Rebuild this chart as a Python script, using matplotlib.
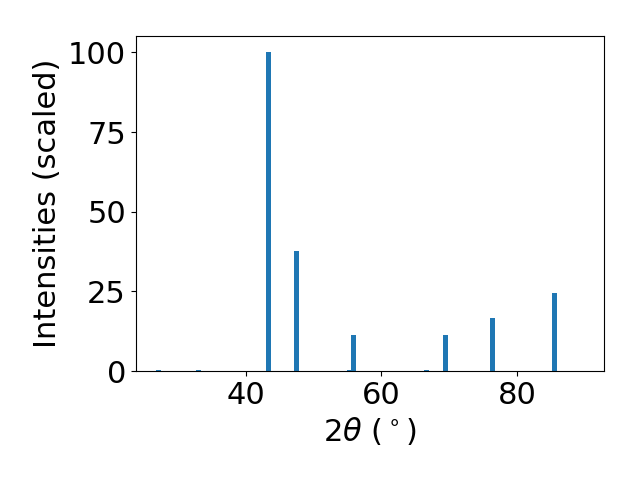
import matplotlib
matplotlib.use('Agg')
import matplotlib.pyplot as plt

# peak positions (2theta, degrees) and scaled intensities
two_theta = [27.1, 33.0, 43.3, 47.4, 55.3, 55.9, 66.6, 69.4, 76.4, 85.5]
intensity = [0.4, 0.3, 100.0, 37.7, 0.3, 11.3, 0.3, 11.3, 16.7, 24.5]

plt.rcParams['font.size'] = 22

fig, ax = plt.subplots(figsize=(6.4, 4.8), dpi=100)
ax.bar(two_theta, intensity, width=0.75, color='#1f77b4')

ax.set_xlim(23.7, 92.9)
ax.set_ylim(0, 105)
ax.set_xlabel(r'$2\theta$ ($^\circ$)')
ax.set_ylabel('Intensities (scaled)')
fig.subplots_adjust(left=0.212, right=0.944, top=0.924, bottom=0.227)

plt.savefig('out.png')
plt.close()
